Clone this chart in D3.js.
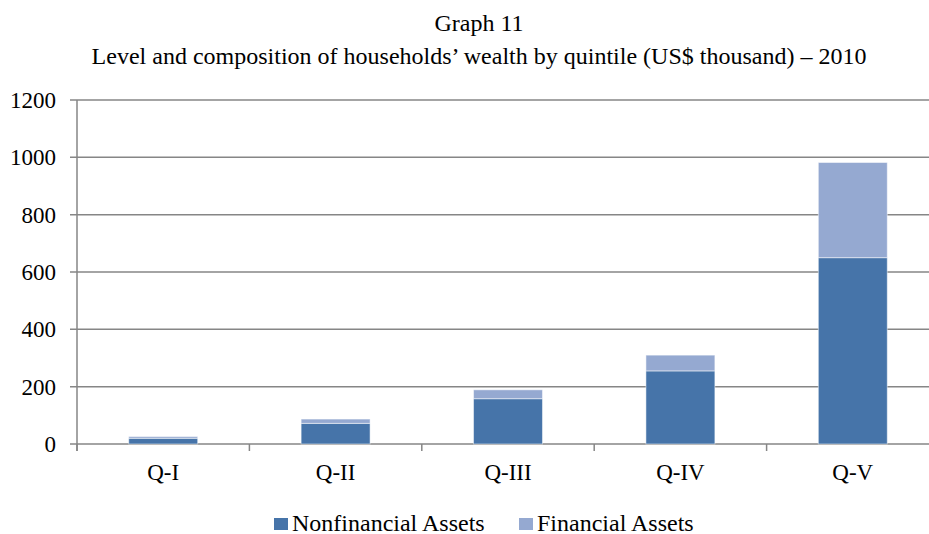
<!DOCTYPE html>
<html><head><meta charset="utf-8">
<script src="https://cdn.jsdelivr.net/npm/d3@7"></script>
<style>body{margin:0;background:#fff}svg{display:block}text{font-family:"Liberation Serif","Times New Roman",serif;fill:#000}</style>
</head><body><svg id="c" width="929" height="534"></svg>
<script>
const categories = ["Q-I","Q-II","Q-III","Q-IV","Q-V"];
const nonfinancial = [20, 72, 158, 255, 650];
const financial = [6, 15, 31, 55, 332];
const seriesNames = ["Nonfinancial Assets","Financial Assets"];
const colors = ["#4674A9","#95A9D1"];
const yTicks = [0,200,400,600,800,1000,1200];
const titleLines = ["Graph 11","Level and composition of households\u2019 wealth by quintile (US$ thousand) \u2013 2010"];

const svg = d3.select("#c");
const W = 929, H = 534;
const x0 = 77, x1 = 939, yTop = 100, yBot = 444;
const x = d3.scaleBand().domain(categories).range([x0, x1]).paddingInner(0.6).paddingOuter(0.3);
const xb = d3.scaleBand().domain(categories).range([x0, x1]);
const y = d3.scaleLinear().domain([0,1200]).range([yBot, yTop]);

// title
svg.selectAll("text.title").data(titleLines).join("text")
  .attr("x", 479).attr("y", (d,i)=> 31 + i*33).attr("text-anchor","middle")
  .style("font-size","24px").text(d=>d);

// gridlines
svg.append("g").selectAll("line").data(yTicks).join("line")
  .attr("x1", x0-7).attr("x2", W).attr("y1", d=>y(d)).attr("y2", d=>y(d))
  .attr("stroke","#868686").attr("stroke-width",1.5);

// stacked data
const rows = categories.map((c,i)=>({cat:c, nonfinancial:nonfinancial[i], financial:financial[i]}));
const stack = d3.stack().keys(["nonfinancial","financial"])(rows);
svg.append("g").selectAll("g").data(stack).join("g")
  .attr("fill",(d,i)=>colors[i])
  .selectAll("rect").data(d=>d).join("rect")
  .attr("x", d=>x(d.data.cat)).attr("width", x.bandwidth())
  .attr("y", d=>y(d[1])).attr("height", d=>y(d[0])-y(d[1]))
  .attr("stroke","rgba(255,255,255,0.5)").attr("stroke-width",1);

// y axis
svg.append("line").attr("x1",x0).attr("x2",x0).attr("y1",yTop).attr("y2",yBot+7)
  .attr("stroke","#868686").attr("stroke-width",1.5);
svg.append("g").selectAll("text").data(yTicks).join("text")
  .attr("x", 56).attr("y", d=>y(d)).attr("dy","0.35em").attr("text-anchor","end")
  .style("font-size","23px").text(d=>d);

// x axis ticks
const xTickPos = categories.map(c=>xb(c)).concat([x1]);
svg.append("g").selectAll("line").data(xTickPos).join("line")
  .attr("x1",d=>d).attr("x2",d=>d).attr("y1",yBot).attr("y2",yBot+7)
  .attr("stroke","#868686").attr("stroke-width",1.5);
svg.append("g").selectAll("text").data(categories).join("text")
  .attr("x", d=>xb(d)+xb.bandwidth()/2).attr("y", 480).attr("text-anchor","middle")
  .style("font-size","23px").text(d=>d);

// legend
const legendX = [274, 519];
const lg = svg.append("g").selectAll("g").data(seriesNames).join("g")
  .attr("transform",(d,i)=>`translate(${legendX[i]},518)`);
lg.append("rect").attr("width",14).attr("height",12).attr("fill",(d,i)=>colors[i]);
lg.append("text").attr("x",18).attr("y",12.5).style("font-size","24px").text(d=>d);
</script></body></html>
